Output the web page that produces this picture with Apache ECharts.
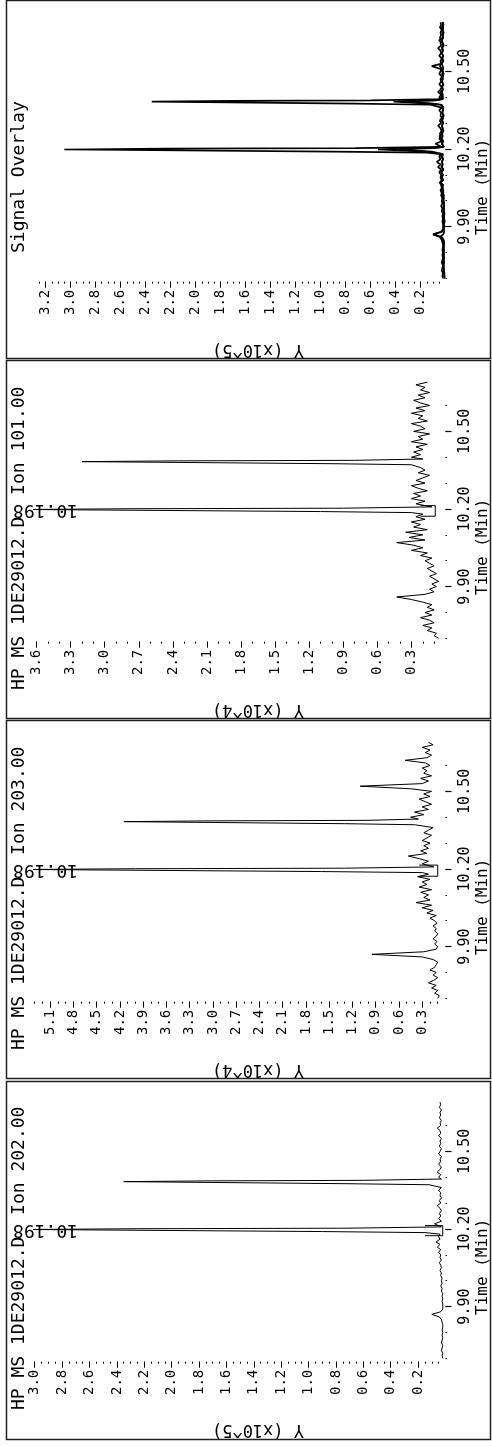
<!DOCTYPE html>
<html><head><meta charset="utf-8">
<script src="https://cdn.jsdelivr.net/npm/echarts@6/dist/echarts.min.js"></script>
<style>html,body{margin:0;padding:0;background:#fff}#c{width:492px;height:1446px}</style>
</head><body><div id="c"></div>
<script>
// ---- data (time in minutes) ----
const times = [
  9.70, 9.71, 9.72, 9.73, 9.74, 9.75, 9.76, 9.77, 9.78, 9.79,
  9.80, 9.81, 9.82, 9.83, 9.84, 9.85, 9.86, 9.87, 9.88, 9.89,
  9.90, 9.91, 9.92, 9.93, 9.94, 9.95, 9.96, 9.97, 9.98, 9.99,
  10.00, 10.01, 10.02, 10.03, 10.04, 10.05, 10.06, 10.07, 10.08, 10.09,
  10.10, 10.11, 10.12, 10.13, 10.14, 10.15, 10.16, 10.17, 10.18, 10.186,
  10.19, 10.198, 10.201, 10.203, 10.208, 10.22, 10.23, 10.24, 10.25, 10.26,
  10.27, 10.28, 10.29, 10.30, 10.31, 10.32, 10.33, 10.34, 10.35, 10.36,
  10.371, 10.375, 10.383, 10.386, 10.388, 10.393, 10.40, 10.41, 10.42, 10.43,
  10.44, 10.45, 10.46, 10.47, 10.48, 10.49, 10.50, 10.51, 10.52, 10.53,
  10.54, 10.55, 10.56, 10.57, 10.58, 10.59, 10.60, 10.61, 10.62, 10.63,
  10.64, 10.65, 10.66, 10.67, 10.68, 10.69
];
// Ion 202.00 abundance, x10^5
const ion202 = [
  0.02, 0.025, 0.02, 0.03, 0.025, 0.02, 0.03, 0.025, 0.02, 0.025,
  0.02, 0.025, 0.02, 0.02, 0.025, 0.03, 0.045, 0.10, 0.035, 0.02,
  0.02, 0.02, 0.025, 0.02, 0.025, 0.02, 0.03, 0.025, 0.035, 0.025,
  0.03, 0.025, 0.035, 0.03, 0.04, 0.03, 0.035, 0.045, 0.03, 0.04,
  0.035, 0.05, 0.035, 0.06, 0.04, 0.07, 0.04, 0.05, 0.04, 0.15,
  0.90, 3.05, 2.25, 0.72, 0.03, 0.08, 0.03, 0.05, 0.035, 0.045,
  0.03, 0.04, 0.06, 0.035, 0.045, 0.03, 0.04, 0.035, 0.05, 0.03,
  0.12, 0.72, 2.35, 1.70, 0.60, 0.03, 0.05, 0.035, 0.06, 0.04,
  0.03, 0.05, 0.035, 0.04, 0.03, 0.05, 0.04, 0.03, 0.045, 0.035,
  0.04, 0.03, 0.05, 0.035, 0.04, 0.06, 0.035, 0.04, 0.03, 0.045,
  0.035, 0.04, 0.03, 0.045, 0.035, 0.04
];
// Ion 203.00 abundance, x10^4
const ion203 = [
  0.10, 0.08, 0.14, 0.10, 0.18, 0.12, 0.22, 0.15, 0.10, 0.16,
  0.12, 0.20, 0.14, 0.12, 0.10, 0.16, 0.30, 0.95, 0.28, 0.12,
  0.10, 0.14, 0.11, 0.16, 0.12, 0.10, 0.14, 0.12, 0.16, 0.11,
  0.14, 0.20, 0.12, 0.24, 0.16, 0.30, 0.18, 0.38, 0.20, 0.28,
  0.22, 0.32, 0.18, 0.34, 0.24, 0.30, 0.20, 0.36, 0.22, 0.30,
  1.60, 5.40, 4.00, 1.30, 0.15, 0.30, 0.22, 0.34, 0.48, 0.24,
  0.32, 0.22, 0.28, 0.20, 0.30, 0.24, 0.18, 0.28, 0.22, 0.16,
  0.40, 1.30, 4.15, 3.00, 1.00, 0.35, 0.45, 0.28, 0.40, 0.22,
  0.30, 0.18, 0.26, 0.34, 0.20, 0.28, 0.18, 0.45, 1.10, 0.30,
  0.22, 0.32, 0.18, 0.28, 0.24, 0.30, 0.20, 0.26, 0.52, 0.24,
  0.18, 0.26, 0.20, 0.30, 0.16, 0.22
];
// Ion 101.00 abundance, x10^4
const ion101 = [
  0.06, 0.10, 0.08, 0.16, 0.12, 0.20, 0.10, 0.14, 0.22, 0.12,
  0.18, 0.10, 0.16, 0.12, 0.20, 0.30, 0.43, 0.18, 0.10, 0.14,
  0.08, 0.12, 0.06, 0.10, 0.14, 0.08, 0.12, 0.16, 0.10, 0.14,
  0.18, 0.12, 0.22, 0.16, 0.30, 0.20, 0.28, 0.43, 0.18, 0.32,
  0.20, 0.35, 0.16, 0.28, 0.22, 0.30, 0.18, 0.26, 0.20, 0.30,
  1.10, 3.70, 2.75, 0.90, 0.12, 0.26, 0.18, 0.30, 0.22, 0.28,
  0.16, 0.24, 0.30, 0.18, 0.26, 0.20, 0.14, 0.24, 0.18, 0.22,
  0.30, 1.00, 3.20, 2.35, 0.80, 0.20, 0.30, 0.22, 0.28, 0.20,
  0.26, 0.16, 0.30, 0.20, 0.24, 0.14, 0.28, 0.18, 0.22, 0.30,
  0.16, 0.24, 0.20, 0.30, 0.18, 0.26, 0.14, 0.22, 0.28, 0.18,
  0.24, 0.14, 0.22, 0.18, 0.26, 0.16
];
// integration baseline markers: [start, end] times and [baseline, tick] levels
const marker202Times = [10.174, 10.213];
const marker202Levels = [0.02, 0.15];
const marker203Times = [10.172, 10.215];
const marker203Levels = [0.10, 0.34];
const marker101Times = [10.172, 10.213];
const marker101Levels = [0.09, 0.22];
const peakLabelText = '10.198';
const peakLabelTime = 10.198;

// tick labels
const timeMajorTicks = [9.90, 10.20, 10.50];
const timeMinorTicks = [9.7, 9.8, 9.9, 10.0, 10.1, 10.2, 10.3, 10.4, 10.5, 10.6];
const overlayTicks = [0.2, 0.4, 0.6, 0.8, 1.0, 1.2, 1.4, 1.6, 1.8, 2.0, 2.2, 2.4, 2.6, 2.8, 3.0, 3.2];
const ion101Ticks = [0.3, 0.6, 0.9, 1.2, 1.5, 1.8, 2.1, 2.4, 2.7, 3.0, 3.3, 3.6];
const ion203Ticks = [0.3, 0.6, 0.9, 1.2, 1.5, 1.8, 2.1, 2.4, 2.7, 3.0, 3.3, 3.6, 3.9, 4.2, 4.5, 4.8, 5.1];
const ion202Ticks = [0.2, 0.4, 0.6, 0.8, 1.0, 1.2, 1.4, 1.6, 1.8, 2.0, 2.2, 2.4, 2.6, 2.8, 3.0];
const panelTitles = ['Signal Overlay', 'HP MS 1DE29012.D  Ion 101.00', 'HP MS 1DE29012.D  Ion 203.00', 'HP MS 1DE29012.D  Ion 202.00'];
const unitNames = ['Y (x10^5)', 'Y (x10^4)', 'Y (x10^4)', 'Y (x10^5)'];
const timeName = 'Time (Min)';

// ---- layout ----
const FONT = '"DejaVu Sans Mono","Liberation Mono",monospace';
const TMIN = 9.687, TMAX = 10.69;
const panels = [
  { top: 0,    border: [0.5, 358.5],   titleY: 253, max: 3.296, step: 0.05, majors: overlayTicks, lw: 1.7,
    lines: [[ion202, 1], [ion203, 0.1], [ion101, 0.1]], marker: null, label: false },
  { top: 360,  border: [360.5, 718.5], titleY: 330, max: 3.627, step: 0.1, majors: ion101Ticks, lw: 1,
    lines: [[ion101, 1]], marker: [marker101Times, marker101Levels], label: true },
  { top: 720,  border: [720.5, 1078.5], titleY: 330, max: 5.316, step: 0.1, majors: ion203Ticks, lw: 1,
    lines: [[ion203, 1]], marker: [marker203Times, marker203Levels], label: true },
  { top: 1080, border: [1081.5, 1439.5], titleY: 330, max: 3.009, step: 0.05, majors: ion202Ticks, lw: 1,
    lines: [[ion202, 1]], marker: [marker202Times, marker202Levels], label: true }
];

const grid = [], xAxis = [], yAxis = [], series = [];
panels.forEach((p, i) => {
  grid.push({ left: 33.5, width: 412, top: p.top + 22.2, height: 259.5 });
  const minor = [];
  for (let k = 1; k * p.step <= p.max + 1e-9; k++) minor.push(+(k * p.step).toFixed(3));
  const baseX = { type: 'value', gridIndex: i, inverse: true, min: 0, max: p.max, position: 'bottom',
    axisLine: { show: false }, splitLine: { show: false } };
  xAxis.push(Object.assign({}, baseX, {
    axisTick: { show: true, customValues: minor, length: 2, lineStyle: { color: '#000', width: 1 } },
    axisLabel: { show: false } }));
  xAxis.push(Object.assign({}, baseX, {
    axisTick: { show: true, customValues: p.majors, length: 6, lineStyle: { color: '#000', width: 1 } },
    axisLabel: { show: true, customValues: p.majors, rotate: 90, margin: 8, color: '#000',
      fontFamily: FONT, fontSize: 14, formatter: v => v.toFixed(1) } }));
  const baseY = { type: 'value', gridIndex: i, min: TMIN, max: TMAX, position: 'right', offset: 3.5,
    axisLine: { show: false }, splitLine: { show: false } };
  yAxis.push(Object.assign({}, baseY, {
    axisTick: { show: true, customValues: timeMinorTicks, length: 1.5, lineStyle: { color: '#000', width: 1.2 } },
    axisLabel: { show: false } }));
  yAxis.push(Object.assign({}, baseY, {
    axisTick: { show: true, customValues: timeMajorTicks, length: 6, lineStyle: { color: '#000', width: 1.2 } },
    axisLabel: { show: true, customValues: timeMajorTicks, rotate: 90, margin: 9, color: '#000',
      fontFamily: FONT, fontSize: 15, formatter: v => v.toFixed(2) } }));
  p.lines.forEach(([vals, k]) => {
    series.push({ type: 'line', xAxisIndex: 2 * i, yAxisIndex: 2 * i, symbol: 'none', clip: false,
      lineStyle: { color: '#000', width: p.lw }, silent: true,
      data: times.map((t, j) => [vals[j] * k, t]) });
  });
  if (p.marker) {
    const [mt, ml] = p.marker;
    series.push({ type: 'line', xAxisIndex: 2 * i, yAxisIndex: 2 * i, symbol: 'none', clip: false,
      lineStyle: { color: '#000', width: 1 }, silent: true,
      data: [[ml[1], mt[0]], [ml[0], mt[0]], [ml[0], mt[1]], [ml[1], mt[1]]] });
  }
});

const chart = echarts.init(document.getElementById('c'), null, { renderer: 'canvas' });
chart.setOption({ animation: false, backgroundColor: '#fff', grid, xAxis, yAxis, series });

const graphic = [];
panels.forEach((p, i) => {
  graphic.push({ type: 'rect', shape: { x: 6.5, y: p.border[0], width: 484, height: p.border[1] - p.border[0] },
    style: { fill: 'none', stroke: '#222', lineWidth: 1.5 }, silent: true });
  graphic.push({ type: 'text', x: 19, y: p.top + p.titleY, rotation: Math.PI / 2,
    style: { text: panelTitles[i], font: '18px ' + FONT, fill: '#000', textAlign: 'left', align: 'left',
      textVerticalAlign: 'middle', verticalAlign: 'middle' } });
  graphic.push({ type: 'text', x: 258, y: p.top + 349, rotation: Math.PI,
    style: { text: unitNames[i], font: '17px ' + FONT, fill: '#000', textAlign: 'center', align: 'center',
      textVerticalAlign: 'middle', verticalAlign: 'middle' } });
  graphic.push({ type: 'text', x: 483, y: p.top + 235, rotation: Math.PI / 2,
    style: { text: timeName, font: '16px ' + FONT, fill: '#000', textAlign: 'left', align: 'left',
      textVerticalAlign: 'middle', verticalAlign: 'middle' } });
  if (p.label) {
    const pt = chart.convertToPixel({ xAxisIndex: 2 * i, yAxisIndex: 2 * i }, [0, peakLabelTime]);
    graphic.push({ type: 'text', x: 13, y: pt[1], rotation: Math.PI,
      style: { text: peakLabelText, font: '18px ' + FONT, fill: '#000', textAlign: 'right', align: 'right',
        textVerticalAlign: 'middle', verticalAlign: 'middle' } });
  }
});
chart.setOption({ graphic });
</script>
</body></html>
